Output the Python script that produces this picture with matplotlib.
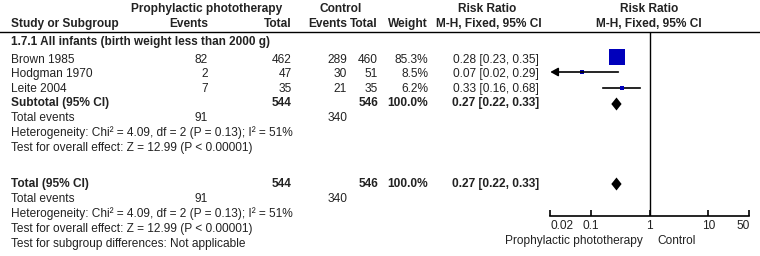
import numpy as np
import matplotlib
matplotlib.use("Agg")
import matplotlib.pyplot as plt

# data
studies = ["Brown 1985", "Hodgman 1970", "Leite 2004"]
tx_events = [82, 2, 7]
tx_total = [462, 47, 35]
ctl_events = [289, 30, 21]
ctl_total = [460, 51, 35]
weights = [85.3, 8.5, 6.2]
rr = [0.28, 0.07, 0.33]
rr_lo = [0.23, 0.02, 0.16]
rr_hi = [0.35, 0.29, 0.68]
pooled = (0.27, 0.22, 0.33)
sum_tx_events, sum_tx_total = 91, 544
sum_ctl_events, sum_ctl_total = 340, 546
het_text = "Heterogeneity: Chi\u00b2 = 4.09, df = 2 (P = 0.13); I\u00b2 = 51%"
effect_text = "Test for overall effect: Z = 12.99 (P < 0.00001)"
subgroup_text = "Test for subgroup differences: Not applicable"
axis_ticks = [0.02, 0.1, 1, 10, 50]
axis_labels = ["0.02", "0.1", "1", "10", "50"]

plt.rcParams['font.family'] = ['Liberation Sans', 'DejaVu Sans']
FS = 8.6
W, H = 760, 256
fig = plt.figure(figsize=(W / 100, H / 100), dpi=100)

# text layer in pixel coordinates
tax = fig.add_axes([0, 0, 1, 1])
tax.set_xlim(0, W)
tax.set_ylim(H, 0)
tax.axis("off")

def txt(x, y, s, ha="left", bold=False, size=FS):
    tax.text(x, y, s, ha=ha, va="center", fontsize=size,
             fontweight="bold" if bold else "normal", color="#222222")

# column right edges
X_LAB, X_TE, X_TT, X_CE, X_CT, X_W, X_CI = 11, 208, 292, 347, 378, 428, 539

txt(207, 9, "Prophylactic phototherapy", ha="center", bold=True)
txt(341, 9, "Control", ha="center", bold=True)
txt(487, 9, "Risk Ratio", ha="center", bold=True)
txt(649, 9, "Risk Ratio", ha="center", bold=True)
txt(X_LAB, 24, "Study or Subgroup", bold=True)
txt(X_TE, 24, "Events", ha="right", bold=True)
txt(X_TT, 24, "Total", ha="right", bold=True)
txt(X_CE, 24, "Events", ha="right", bold=True)
txt(X_CT, 24, "Total", ha="right", bold=True)
txt(X_W, 24, "Weight", ha="right", bold=True)
txt(489, 24, "M-H, Fixed, 95% CI", ha="center", bold=True)
txt(649, 24, "M-H, Fixed, 95% CI", ha="center", bold=True)
tax.plot([0, W], [32, 32], color="black", lw=1)

txt(X_LAB, 42, "1.7.1 All infants (birth weight less than 2000 g)", bold=True, size=8.5)

row_y = [60, 74, 89]
for i, y in enumerate(row_y):
    txt(X_LAB, y, studies[i])
    txt(X_TE, y, str(tx_events[i]), ha="right")
    txt(X_TT, y, str(tx_total[i]), ha="right")
    txt(X_CE, y, str(ctl_events[i]), ha="right")
    txt(X_CT, y, str(ctl_total[i]), ha="right")
    txt(X_W, y, f"{weights[i]:.1f}%", ha="right")
    txt(X_CI, y, f"{rr[i]:.2f} [{rr_lo[i]:.2f}, {rr_hi[i]:.2f}]", ha="right")

ci_pooled = f"{pooled[0]:.2f} [{pooled[1]:.2f}, {pooled[2]:.2f}]"
for y0, label in [(103, "Subtotal (95% CI)"), (184, "Total (95% CI)")]:
    txt(X_LAB, y0, label, bold=True)
    txt(X_TT, y0, str(sum_tx_total), ha="right", bold=True)
    txt(X_CT, y0, str(sum_ctl_total), ha="right", bold=True)
    txt(X_W, y0, f"{sum(weights):.1f}%", ha="right", bold=True)
    txt(X_CI, y0, ci_pooled, ha="right", bold=True)
    txt(X_LAB, y0 + 15, "Total events")
    txt(X_TE, y0 + 15, str(sum_tx_events), ha="right")
    txt(X_CE, y0 + 15, str(sum_ctl_events), ha="right")
    txt(X_LAB, y0 + 30, het_text)
    txt(X_LAB, y0 + 45, effect_text)
txt(X_LAB, 244, subgroup_text)

# forest plot axes, log scale
x0, x1, ytop, ybot = 550.3, 749.3, 32, 216
ax = fig.add_axes([x0 / W, 1 - ybot / H, (x1 - x0) / W, (ybot - ytop) / H])
ax.set_xscale("log")
ax.set_xlim(axis_ticks[0], axis_ticks[-1])
ax.set_ylim(ybot, ytop)
ax.patch.set_alpha(0)
for s in ["top", "left", "right"]:
    ax.spines[s].set_visible(False)
ax.spines["bottom"].set_linewidth(1.2)
ax.set_yticks([])
ax.set_xticks(axis_ticks)
ax.set_xticklabels(axis_labels)
ax.minorticks_off()
ax.tick_params(axis="x", direction="in", length=4, width=1.2, pad=3,
               labelsize=FS, labelcolor="#222222")
tl = ax.get_xticklabels()
tl[0].set_ha("left")
tl[-1].set_ha("right")
ax.axvline(1, color="black", lw=1)

mark_y = [57, 72, 88]
for i, y in enumerate(mark_y):
    side = max(4, 16 * weights[i] / max(weights))
    if rr_lo[i] <= axis_ticks[0]:
        ax.annotate("", xy=(axis_ticks[0], y), xytext=(rr_hi[i], y),
                    arrowprops=dict(arrowstyle="-|>,head_length=0.45,head_width=0.25",
                                    color="black", lw=1.2, shrinkA=0, shrinkB=0))
    else:
        ax.plot([rr_lo[i], rr_hi[i]], [y, y], color="black", lw=1.2)
    ax.plot(rr[i], y, marker="s", ms=side * 0.72, color="#0000bb", mec="#0000bb", mew=0)

for yd in [104, 184]:
    ax.fill([pooled[1], pooled[0], pooled[2], pooled[0]], [yd, yd - 6.5, yd, yd + 6.5],
            color="black", lw=0)

fig.text(643 / W, 1 - 241 / H, "Prophylactic phototherapy", ha="right", va="center",
         fontsize=FS, color="#222222")
fig.text(657 / W, 1 - 241 / H, "Control", ha="left", va="center",
         fontsize=FS, color="#222222")

fig.savefig("out.png", dpi=100)
